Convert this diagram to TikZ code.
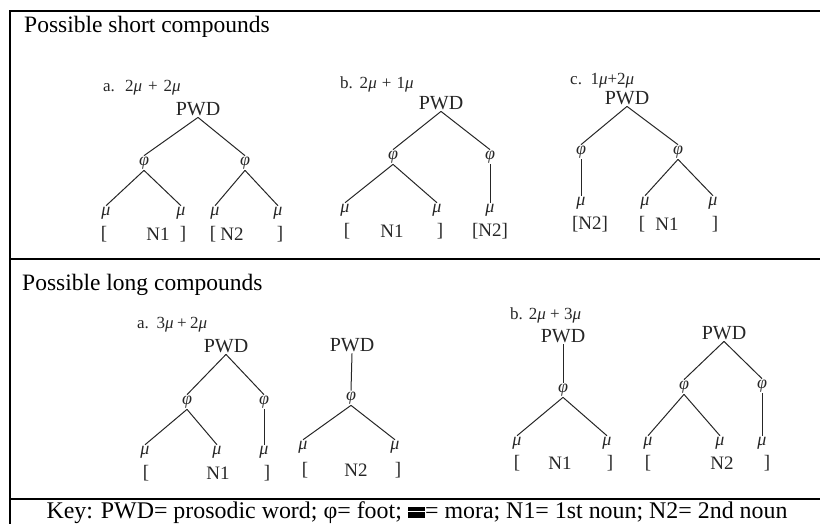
\documentclass[tikz,border=0pt]{standalone}
\usepackage{fontspec}
\setmainfont{Liberation Serif}
\definecolor{ink}{HTML}{262626}
\newcommand\moraglyph{\raisebox{0.02em}{\rlap{\rule{0.72em}{0.44em}}\raisebox{0.24em}{\textcolor{white}{\rule{0.72em}{0.05em}}}}}
\newcommand\gmu{{\itshape μ}}
\newcommand\gphi{{\itshape φ}}
\tikzset{
  frame/.style={line width=2pt, line cap=rect},
  head/.style={font=\fontsize{23.5}{24}\selectfont, anchor=base west, inner sep=0pt},
  keytext/.style={font=\fontsize{23.9}{24}\selectfont, anchor=base, inner sep=0pt},
  pwd/.style={font=\fontsize{20}{20}\selectfont, text=ink, inner sep=1.5pt},
  gr/.style={font=\fontsize{18}{18}\selectfont, text=ink, inner sep=1pt},
  brk/.style={font=\fontsize{19}{19}\selectfont, text=ink, inner sep=0pt},
  ttl/.style={font=\fontsize{17}{17}\selectfont, text=ink, anchor=west, inner sep=0pt},
  br/.style={draw=ink, line width=1pt},
}
\begin{document}
\begin{tikzpicture}[x=1pt,y=-1pt]
\useasboundingbox (0,0) rectangle (820,523);
% frame
\draw[frame] (10,523) -- (10,10.5) -- (820,10.5);
\draw[frame] (10,259) -- (820,259);
\draw[frame] (10,499) -- (820,499);
\node[head] (h1) at (24,32) {Possible short compounds};
\node[head] (h2) at (22,290) {Possible long compounds};
\node[keytext] (key) at (417,518) {Key: PWD= prosodic word; φ= foot; \moraglyph= mora; N1= 1st noun; N2= 2nd noun};

% ---------- short a ----------
\node[ttl] (saT) at (103,88) {a.\hspace{0.6em}2\gmu\hspace{0.35em}+\hspace{0.35em}2\gmu};
\node[pwd] (saP) at (198,109) {PWD};
\node[gr] (saL) at (144,163) {\gphi};
\node[gr] (saR) at (245,163) {\gphi};
\node[gr] (saLL) at (106,213) {\gmu};
\node[gr] (saLR) at (181,213) {\gmu};
\node[gr] (saRL) at (215,213) {\gmu};
\node[gr] (saRR) at (278,213) {\gmu};
\draw[br] (saP.south) -- (saL.north);
\draw[br] (saP.south) -- (saR.north);
\draw[br] (saL.south) -- (saLL.north);
\draw[br] (saL.south) -- (saLR.north);
\draw[br] (saR.south) -- (saRL.north);
\draw[br] (saR.south) -- (saRR.north);
\node[brk] (sab1) at (104,234) {[};
\node[brk] (sab2) at (158,234) {N1};
\node[brk] (sab3) at (183,234) {]};
\node[brk] (sab4) at (213,234) {[};
\node[brk] (sab5) at (232,234) {N2};
\node[brk] (sab6) at (280,234) {]};

% ---------- short b ----------
\node[ttl] (sbT) at (340,84) {b.\hspace{0.4em}2\gmu\hspace{0.3em}+\hspace{0.3em}1\gmu};
\node[pwd] (sbP) at (441,103) {PWD};
\node[gr] (sbL) at (393,157) {\gphi};
\node[gr] (sbR) at (490,157) {\gphi};
\node[gr] (sbLL) at (345,210) {\gmu};
\node[gr] (sbLR) at (437,210) {\gmu};
\node[gr] (sbRR) at (490,210) {\gmu};
\draw[br] (sbP.south) -- (sbL.north);
\draw[br] (sbP.south) -- (sbR.north);
\draw[br] (sbL.south) -- (sbLL.north);
\draw[br] (sbL.south) -- (sbLR.north);
\draw[br] (sbR.south) -- (sbRR.north);
\node[brk] (sbb1) at (347,231) {[};
\node[brk] (sbb2) at (392,231) {N1};
\node[brk] (sbb3) at (440,231) {]};
\node[brk] (sbb4) at (490,231) {[N2]};

% ---------- short c ----------
\node[ttl] (scT) at (570,81) {c.\hspace{0.5em}1\gmu+2\gmu};
\node[pwd] (scP) at (627,98) {PWD};
\node[gr] (scL) at (581,152) {\gphi};
\node[gr] (scR) at (678,152) {\gphi};
\node[gr] (scLL) at (581,203) {\gmu};
\node[gr] (scRL) at (645,203) {\gmu};
\node[gr] (scRR) at (713,203) {\gmu};
\draw[br] (scP.south) -- (scL.north);
\draw[br] (scP.south) -- (scR.north);
\draw[br] (scL.south) -- (scLL.north);
\draw[br] (scR.south) -- (scRL.north);
\draw[br] (scR.south) -- (scRR.north);
\node[brk] (scb1) at (590,224) {[N2]};
\node[brk] (scb2) at (642,224) {[};
\node[brk] (scb3) at (667,224) {N1};
\node[brk] (scb4) at (715,224) {]};

% ---------- long a ----------
\node[ttl] (laT) at (137,325) {a.\hspace{0.45em}3\gmu\hspace{0.2em}+\hspace{0.2em}2\gmu};
\node[pwd] (laP) at (226,346) {PWD};
\node[gr] (laL) at (187,402) {\gphi};
\node[gr] (laR) at (264,402) {\gphi};
\node[gr] (laLL) at (145,452) {\gmu};
\node[gr] (laLR) at (217,452) {\gmu};
\node[gr] (laRR) at (264,452) {\gmu};
\draw[br] (laP.south) -- (laL.north);
\draw[br] (laP.south) -- (laR.north);
\draw[br] (laL.south) -- (laLL.north);
\draw[br] (laL.south) -- (laLR.north);
\draw[br] (laR.south) -- (laRR.north);
\node[brk] (lab1) at (146,473) {[};
\node[brk] (lab2) at (218,473) {N1};
\node[brk] (lab3) at (267,473) {]};

\node[pwd] (lcP) at (352,345) {PWD};
\node[gr] (lcF) at (351,398) {\gphi};
\node[gr] (lcL) at (303,447) {\gmu};
\node[gr] (lcR) at (395,447) {\gmu};
\draw[br] (lcP.south) -- (lcF.north);
\draw[br] (lcF.south) -- (lcL.north);
\draw[br] (lcF.south) -- (lcR.north);
\node[brk] (lcb1) at (305,470) {[};
\node[brk] (lcb2) at (356,470) {N2};
\node[brk] (lcb3) at (398,470) {]};

% ---------- long b ----------
\node[ttl] (lbT) at (510,315) {b.\hspace{0.35em}2\gmu\hspace{0.25em}+\hspace{0.25em}3\gmu};
\node[pwd] (lbP) at (563,336) {PWD};
\node[gr] (lbF) at (563,390) {\gphi};
\node[gr] (lbL) at (517,443) {\gmu};
\node[gr] (lbR) at (607,443) {\gmu};
\draw[br] (lbP.south) -- (lbF.north);
\draw[br] (lbF.south) -- (lbL.north);
\draw[br] (lbF.south) -- (lbR.north);
\node[brk] (lbb1) at (517,463) {[};
\node[brk] (lbb2) at (560,463) {N1};
\node[brk] (lbb3) at (610,463) {]};

\node[pwd] (ldP) at (724,333) {PWD};
\node[gr] (ldL) at (684,387) {\gphi};
\node[gr] (ldR) at (762,386) {\gphi};
\node[gr] (ldLL) at (648,443) {\gmu};
\node[gr] (ldLR) at (720,443) {\gmu};
\node[gr] (ldRR) at (762,443) {\gmu};
\draw[br] (ldP.south) -- (ldL.north);
\draw[br] (ldP.south) -- (ldR.north);
\draw[br] (ldL.south) -- (ldLL.north);
\draw[br] (ldL.south) -- (ldLR.north);
\draw[br] (ldR.south) -- (ldRR.north);
\node[brk] (ldb1) at (648,463) {[};
\node[brk] (ldb2) at (722,463) {N2};
\node[brk] (ldb3) at (767,463) {]};
\end{tikzpicture}
\end{document}
